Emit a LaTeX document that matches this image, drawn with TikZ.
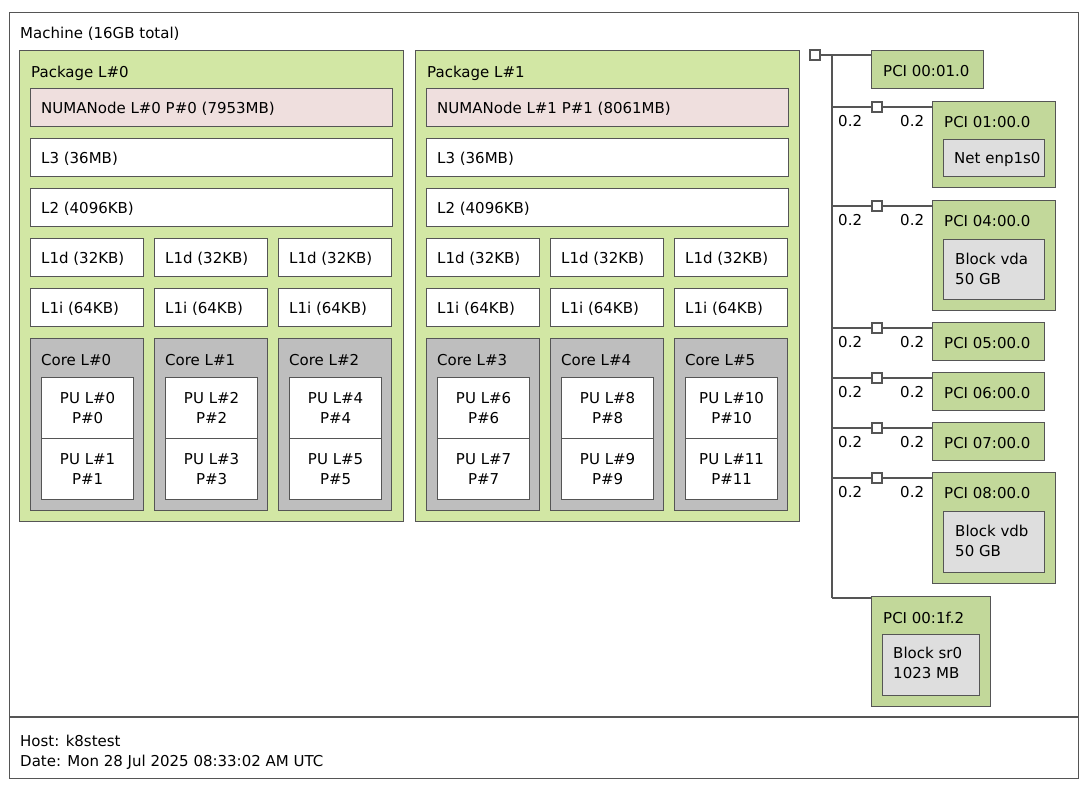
\documentclass[tikz,border=0pt]{standalone}
\usepackage{fontspec}
\setmainfont{DejaVu Sans}
\usetikzlibrary{positioning}
\definecolor{pkggreen}{HTML}{D2E7A4}
\definecolor{pcigreen}{HTML}{C2D89A}
\definecolor{numapink}{HTML}{EFDFDE}
\definecolor{coregray}{HTML}{BEBEBE}
\definecolor{osgray}{HTML}{DEDEDE}
\definecolor{edge}{HTML}{555555}
\tikzset{%
	% Specifications for style of boxes:
	base/.style = {rectangle, draw=edge, line width=1.2pt, inner sep=0pt, anchor=north west},
	pkg/.style = {base, fill=pkggreen},
	numa/.style = {base, fill=numapink},
	cache/.style = {base, fill=white},
	core/.style = {base, fill=coregray},
	pu/.style = {base, fill=white, align=center},
	pci/.style = {base, fill=pcigreen},
	osdev/.style = {base, fill=osgray},
	bridge/.style = {base, fill=white, minimum width=10pt, minimum height=10pt, anchor=center},
	txt/.style = {anchor=west, inner sep=0pt, yshift=-1.5pt},
	bw/.style = {edge, line width=1.2pt},
}
% box from (x1,y1) to (x2,y2)
\newcommand{\bx}[6]{\node (#1) [#6, minimum width={((#4)-(#2))*1pt}, minimum height={((#5)-(#3))*1pt}] at (#2,#3) {};}
\begin{document}
\begin{tikzpicture}[x=1pt,y=-1pt,font=\fontsize{15}{20}\selectfont]
		\useasboundingbox (0,0) rectangle (1091,786);
		\node (Machine) [base, fill=white, minimum width=1069pt, minimum height=766pt] at (9,12) {};
		\draw [bw] (9,717) -- (1078,717);
		\node [txt] at (20,32) {Machine (16GB total)};
		\node [txt] at (20,739) {Host: k8stest};
		\node [txt] at (20,761) {Date: Mon 28 Jul 2025 08:33:02 AM UTC};
		
		% packages
		\foreach \p/\dx/\mem in {0/0/7953,1/396/8061}{
			\bx{Pkg\p}{19+\dx}{50}{403+\dx}{521}{pkg}
			\node [txt] at (31+\dx,72) {Package L\#\p};
			\bx{Numa\p}{30+\dx}{88}{392+\dx}{126}{numa}
			\node [txt] at (41+\dx,107) {NUMANode L\#\p{} P\#\p{} (\mem MB)};
			\bx{LThree\p}{30+\dx}{138}{392+\dx}{176}{cache}
			\node [txt] at (41+\dx,157) {L3 (36MB)};
			\bx{LTwo\p}{30+\dx}{188}{392+\dx}{226}{cache}
			\node [txt] at (41+\dx,207) {L2 (4096KB)};
			\foreach \c/\cx in {0/0,1/124,2/248}{
				\pgfmathtruncatemacro{\cid}{3*\p+\c}
				\pgfmathtruncatemacro{\pa}{2*\cid}
				\pgfmathtruncatemacro{\pb}{2*\cid+1}
				\bx{Lid\cid}{30+\dx+\cx}{238}{143+\dx+\cx}{276}{cache}
				\node [txt] at (41+\dx+\cx,257) {L1d (32KB)};
				\bx{Lii\cid}{30+\dx+\cx}{288}{143+\dx+\cx}{326}{cache}
				\node [txt] at (41+\dx+\cx,307) {L1i (64KB)};
				\bx{Core\cid}{30+\dx+\cx}{338}{143+\dx+\cx}{510}{core}
				\node [txt] at (41+\dx+\cx,359) {Core L\#\cid};
				\node (PU\pa) [pu, minimum width=92pt, minimum height=61pt] at (41+\dx+\cx,377) {PU L\#\pa\\P\#\pa};
				\node (PU\pb) [pu, minimum width=92pt, minimum height=61pt] at (41+\dx+\cx,438) {PU L\#\pb\\P\#\pb};
			}
		}
		
		% host bridge and PCI tree
		\node (HB) [bridge] at (815,55) {};
		\bx{PciA}{871}{50}{983}{88}{pci}
		\node [txt] at (883,70) {PCI 00:01.0};
		\coordinate (Trunk) at (832,55);
		\coordinate (TrunkEnd) at (832,598);
		\draw [bw] (HB) -- (PciA.west |- HB);
		\draw [bw] (Trunk) -- (TrunkEnd);
		\bx{PciF}{871}{596}{990}{706}{pci}
		\node [txt] at (883,616) {PCI 00:1f.2};
		\draw [bw] (TrunkEnd) -- (PciF.west |- TrunkEnd);
		\bx{BlkSr}{882}{634}{979}{695}{osdev}
		\node [txt, align=left, anchor=north west] at (893,645) {Block sr0\\1023 MB};
		
		\foreach \n/\y/\yb/\xr/\lbl in {1/107/187/1055/01,4/206/310/1055/04,5/328/360/1044/05,6/378/410/1044/06,7/428/460/1044/07,8/478/583/1055/08}{
			\bx{Pci\n}{932}{\y-6}{\xr}{\yb}{pci}
			\node [txt] at (944,\y+14) {PCI \lbl:00.0};
			\coordinate (Br\n) at (832,\y);
			\node (Sq\n) [bridge] at (877,\y) {};
			\draw [bw] (Br\n) -- (Sq\n) -- (Pci\n.west |- Sq\n);
			\node [txt] at (838,\y+13) {0.2};
			\node [txt] at (900,\y+13) {0.2};
		}
		\bx{Net}{943}{139}{1044}{176}{osdev}
		\node [txt] at (954,158) {Net enp1s0};
		\bx{BlkA}{943}{239}{1044}{299}{osdev}
		\node [txt, align=left, anchor=north west] at (955,251) {Block vda\\50 GB};
		\bx{BlkB}{943}{511}{1044}{572}{osdev}
		\node [txt, align=left, anchor=north west] at (955,523) {Block vdb\\50 GB};
\end{tikzpicture}
\end{document}
